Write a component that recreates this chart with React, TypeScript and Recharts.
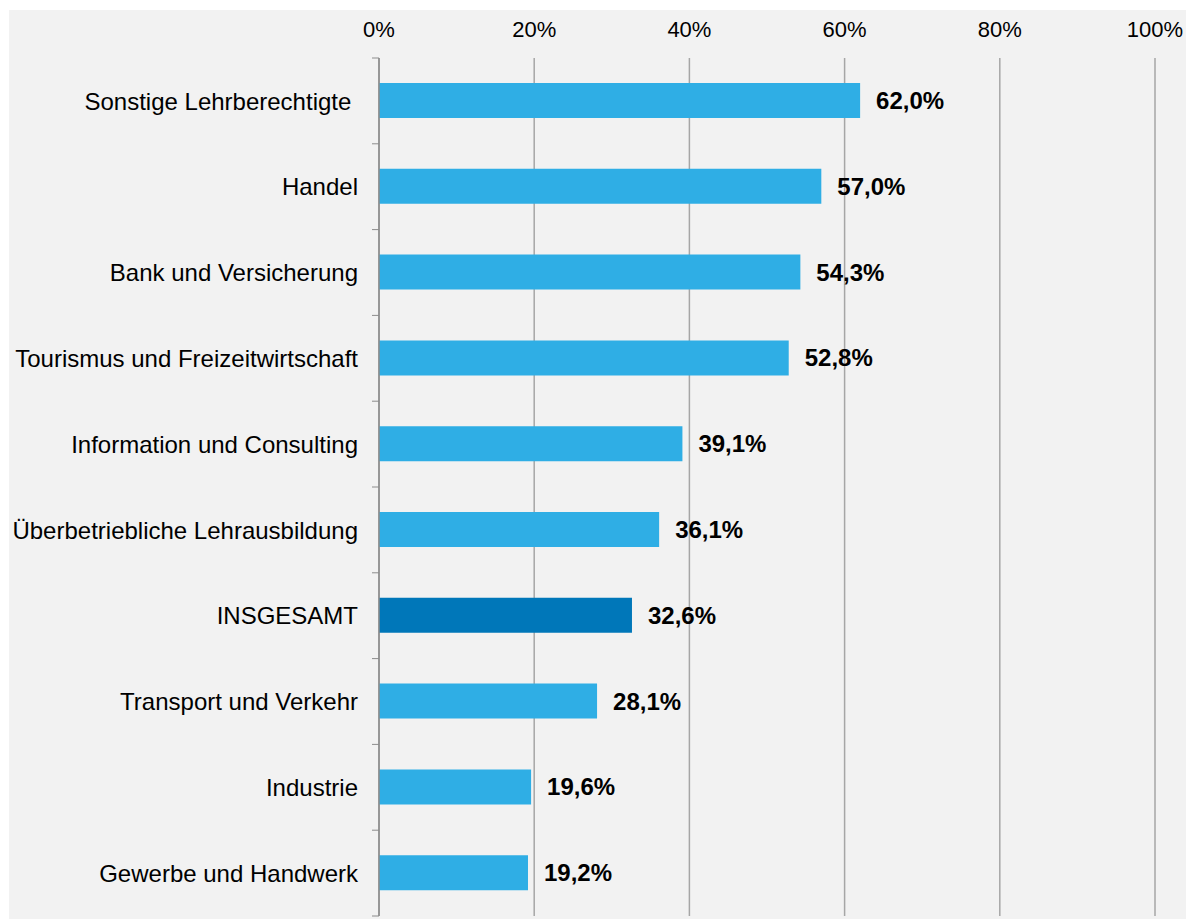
import React from 'react';
import { BarChart, Bar, XAxis, YAxis, CartesianGrid, Cell, LabelList } from 'recharts';

const categories = [
  'Sonstige Lehrberechtigte ',
  'Handel',
  'Bank und Versicherung',
  'Tourismus und Freizeitwirtschaft',
  'Information und Consulting',
  'Überbetriebliche Lehrausbildung',
  'INSGESAMT',
  'Transport und Verkehr',
  'Industrie',
  'Gewerbe und Handwerk',
];
const values = [62.0, 57.0, 54.3, 52.8, 39.1, 36.1, 32.6, 28.1, 19.6, 19.2];
const highlight = 'INSGESAMT';
const xTicks = [0, 20, 40, 60, 80, 100];

const data = categories.map((name, i) => ({ name, value: values[i] }));

const FONT = '"Liberation Sans", Arial, sans-serif';
const LABEL_GAP = 21;
const TICK_LEN = 7;
const AXIS_COLOR = '#8c8c8c';

const CategoryTick = (props: any) => {
  const { x, y, payload, index } = props;
  const axisX = x + LABEL_GAP;
  const half = payload && payload.offset ? payload.offset : 42.9;
  const isLast = index === categories.length - 1;
  return (
    <g>
      <text
        x={x}
        y={y}
        dy="0.36em"
        textAnchor="end"
        fill="#000"
        fontSize={24}
        fontFamily={FONT}
        xmlSpace="preserve"
        style={{ whiteSpace: 'pre' }}
      >
        {String(payload.value).replace(/ $/, '\u00a0')}
      </text>
      <line x1={axisX - TICK_LEN} x2={axisX} y1={y - half} y2={y - half} stroke={AXIS_COLOR} strokeWidth={1} />
      {isLast && (
        <line x1={axisX - TICK_LEN} x2={axisX} y1={y + half} y2={y + half} stroke={AXIS_COLOR} strokeWidth={1} />
      )}
    </g>
  );
};

const fmt = (v: number) => v.toFixed(1).replace('.', ',') + '%';

export default function App() {
  return (
    <div style={{ width: 1185, height: 909, background: '#f2f2f2', marginLeft: 1, marginTop: 2 }}>
      <BarChart
        width={1185}
        height={909}
        data={data}
        layout="vertical"
        margin={{ top: 0, right: 39, bottom: 3, left: 0 }}
      >
        <CartesianGrid horizontal={false} vertical={true} stroke="#a6a6a6" strokeWidth={1.5} />
        <XAxis
          type="number"
          orientation="top"
          domain={[0, 100]}
          ticks={xTicks}
          tickFormatter={(v: number) => `${v}%`}
          axisLine={false}
          tickLine={false}
          tickSize={0}
          tickMargin={21}
          height={48}
          tick={{ fill: '#000', fontSize: 22, fontFamily: FONT }}
          interval={0}
        />
        <YAxis
          type="category"
          dataKey="name"
          width={370}
          axisLine={{ stroke: AXIS_COLOR, strokeWidth: 1.5 }}
          tickLine={false}
          tickSize={0}
          tickMargin={LABEL_GAP}
          tick={<CategoryTick />}
          interval={0}
        />
        <Bar dataKey="value" barSize={35} isAnimationActive={false}>
          {data.map((d) => (
            <Cell key={d.name} fill={d.name === highlight ? '#0077b9' : '#2faee5'} />
          ))}
          <LabelList
            dataKey="value"
            position="right"
            offset={16}
            formatter={(v: any) => fmt(Number(v))}
            fill="#000"
            fontSize={24}
            fontWeight="bold"
            fontFamily={FONT}
          />
        </Bar>
      </BarChart>
    </div>
  );
}
